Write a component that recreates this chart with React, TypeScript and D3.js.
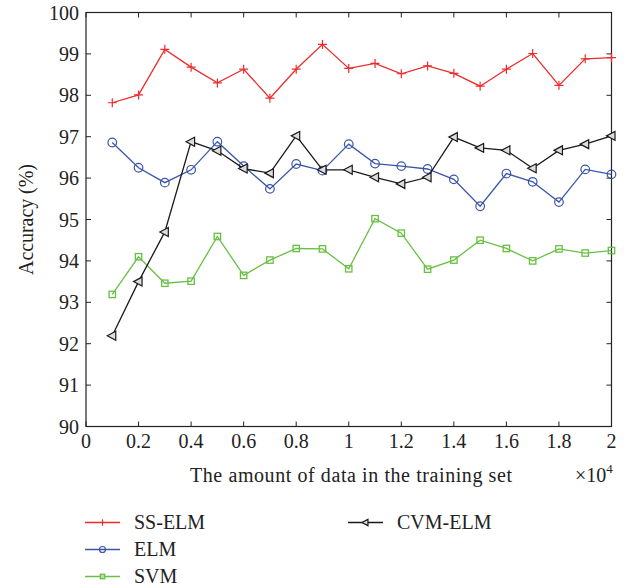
import React from 'react';
import * as d3 from 'd3';

const xValues = [0.1, 0.2, 0.3, 0.4, 0.5, 0.6, 0.7, 0.8, 0.9, 1.0, 1.1, 1.2, 1.3, 1.4, 1.5, 1.6, 1.7, 1.8, 1.9, 2.0];
const ssElm = [97.82, 98.01, 99.11, 98.68, 98.3, 98.63, 97.93, 98.63, 99.23, 98.65, 98.77, 98.52, 98.71, 98.53, 98.22, 98.63, 99.01, 98.24, 98.88, 98.91];
const elm = [96.86, 96.25, 95.89, 96.2, 96.88, 96.29, 95.74, 96.34, 96.18, 96.82, 96.35, 96.29, 96.22, 95.97, 95.32, 96.11, 95.91, 95.42, 96.21, 96.09];
const svm = [93.19, 94.1, 93.46, 93.51, 94.59, 93.65, 94.02, 94.3, 94.29, 93.81, 95.02, 94.67, 93.8, 94.02, 94.5, 94.3, 94.0, 94.29, 94.19, 94.25];
const cvmElm = [92.19, 93.5, 94.7, 96.88, 96.66, 96.23, 96.12, 97.02, 96.2, 96.2, 96.02, 95.86, 96.02, 96.99, 96.73, 96.67, 96.24, 96.67, 96.82, 97.02];
const xTicks = [0, 0.2, 0.4, 0.6, 0.8, 1, 1.2, 1.4, 1.6, 1.8, 2];
const yTicks = [90, 91, 92, 93, 94, 95, 96, 97, 98, 99, 100];

type Marker = 'plus' | 'circle' | 'square' | 'triangle';
const series: { name: string; values: number[]; color: string; marker: Marker }[] = [
  { name: 'SS-ELM', values: ssElm, color: '#ee2b2b', marker: 'plus' },
  { name: 'ELM', values: elm, color: '#3b56a8', marker: 'circle' },
  { name: 'SVM', values: svm, color: '#68c043', marker: 'square' },
  { name: 'CVM-ELM', values: cvmElm, color: '#1a1a1a', marker: 'triangle' },
];

const W = 632;
const H = 588;
const M = { left: 86, top: 12.5, right: 611.5, bottom: 426.5 };
const FONT = '"Liberation Serif", "DejaVu Serif", serif';
const TEXT = '#222';

// s = scale of marker (legend uses smaller ones)
const MarkerShape: React.FC<{ type: Marker; x: number; y: number; color: string; s?: number }> = ({ type, x, y, color, s = 1 }) => {
  if (type === 'plus') {
    const h = 4.5 * s;
    return <path d={`M${x - h},${y}H${x + h}M${x},${y - h}V${y + h}`} stroke={color} strokeWidth={1.2} />;
  }
  if (type === 'circle') {
    return <circle cx={x} cy={y} r={4.3 * s} fill="none" stroke={color} strokeWidth={1.2} />;
  }
  if (type === 'square') {
    const h = 3.2 * s;
    return <rect x={x - h} y={y - h} width={2 * h} height={2 * h} fill={s < 1 ? '#b5e0a0' : 'none'} stroke={color} strokeWidth={1.3} />;
  }
  return <path d={`M${x - 5 * s},${y}L${x + 3.5 * s},${y - 4.5 * s}L${x + 3.5 * s},${y + 4.5 * s}Z`} fill="#ddd" stroke={color} strokeWidth={1.2} />;
};

const App: React.FC = () => {
  const x = d3.scaleLinear().domain([0, 2]).range([M.left, M.right]);
  const y = d3.scaleLinear().domain([90, 100]).range([M.bottom, M.top]);
  const line = d3.line<number>()
    .x((_, i) => x(xValues[i]))
    .y(d => y(d));
  const tick = 5;

  const legendRows = [
    { s: series[0], lx: 85, ly: 522.5 },
    { s: series[1], lx: 85, ly: 549.5 },
    { s: series[2], lx: 85, ly: 576.5 },
    { s: series[3], lx: 348, ly: 522.5 },
  ];

  return (
    <svg width={W} height={H} style={{ position: 'absolute', left: 0, top: 0, background: '#fff' }} fontFamily={FONT}>
      {/* ticks, all four sides, pointing inward */}
      {xTicks.map(t => (
        <g key={'x' + t}>
          <line x1={x(t)} x2={x(t)} y1={M.bottom} y2={M.bottom - tick} stroke={TEXT} strokeWidth={1} />
          <line x1={x(t)} x2={x(t)} y1={M.top} y2={M.top + tick} stroke={TEXT} strokeWidth={1} />
          <text x={x(t)} y={448} textAnchor="middle" fontSize={20} fill={TEXT}>{t}</text>
        </g>
      ))}
      {yTicks.map(t => (
        <g key={'y' + t}>
          <line x1={M.left} x2={M.left + tick} y1={y(t)} y2={y(t)} stroke={TEXT} strokeWidth={1} />
          <line x1={M.right} x2={M.right - tick} y1={y(t)} y2={y(t)} stroke={TEXT} strokeWidth={1} />
          <text x={79} y={y(t) + 7} textAnchor="end" fontSize={20} fill={TEXT}>{t}</text>
        </g>
      ))}
      <rect x={M.left} y={M.top} width={M.right - M.left} height={M.bottom - M.top} fill="none" stroke={TEXT} strokeWidth={1.2} />

      {series.map(s => (
        <g key={s.name}>
          <path d={line(s.values) || ''} fill="none" stroke={s.color} strokeWidth={1.3} />
          {s.values.map((v, i) => (
            <MarkerShape key={i} type={s.marker} x={x(xValues[i])} y={y(v)} color={s.color} />
          ))}
        </g>
      ))}

      <text x={190} y={482} fontSize={20} fill={TEXT} textLength={322} lengthAdjust="spacing">The amount of data in the training set</text>
      <text x={575} y={482} fontSize={20} fill={TEXT}>
        ×10<tspan dy={-9} fontSize={13}>4</tspan>
      </text>
      <text transform={`translate(33,${(M.top + M.bottom) / 2}) rotate(-90)`} textAnchor="middle" fontSize={20} fill={TEXT}
        textLength={111} lengthAdjust="spacing">Accuracy (%)</text>

      {legendRows.map(({ s, lx, ly }) => (
        <g key={'lg' + s.name}>
          <line x1={lx} x2={lx + 35} y1={ly} y2={ly} stroke={s.color} strokeWidth={1.3} />
          <MarkerShape type={s.marker} x={lx + 17.5} y={ly} color={s.color} s={0.7} />
          <text x={lx + 49} y={ly + 6.5} fontSize={20} fill={TEXT}>{s.name}</text>
        </g>
      ))}
    </svg>
  );
};

export default App;
